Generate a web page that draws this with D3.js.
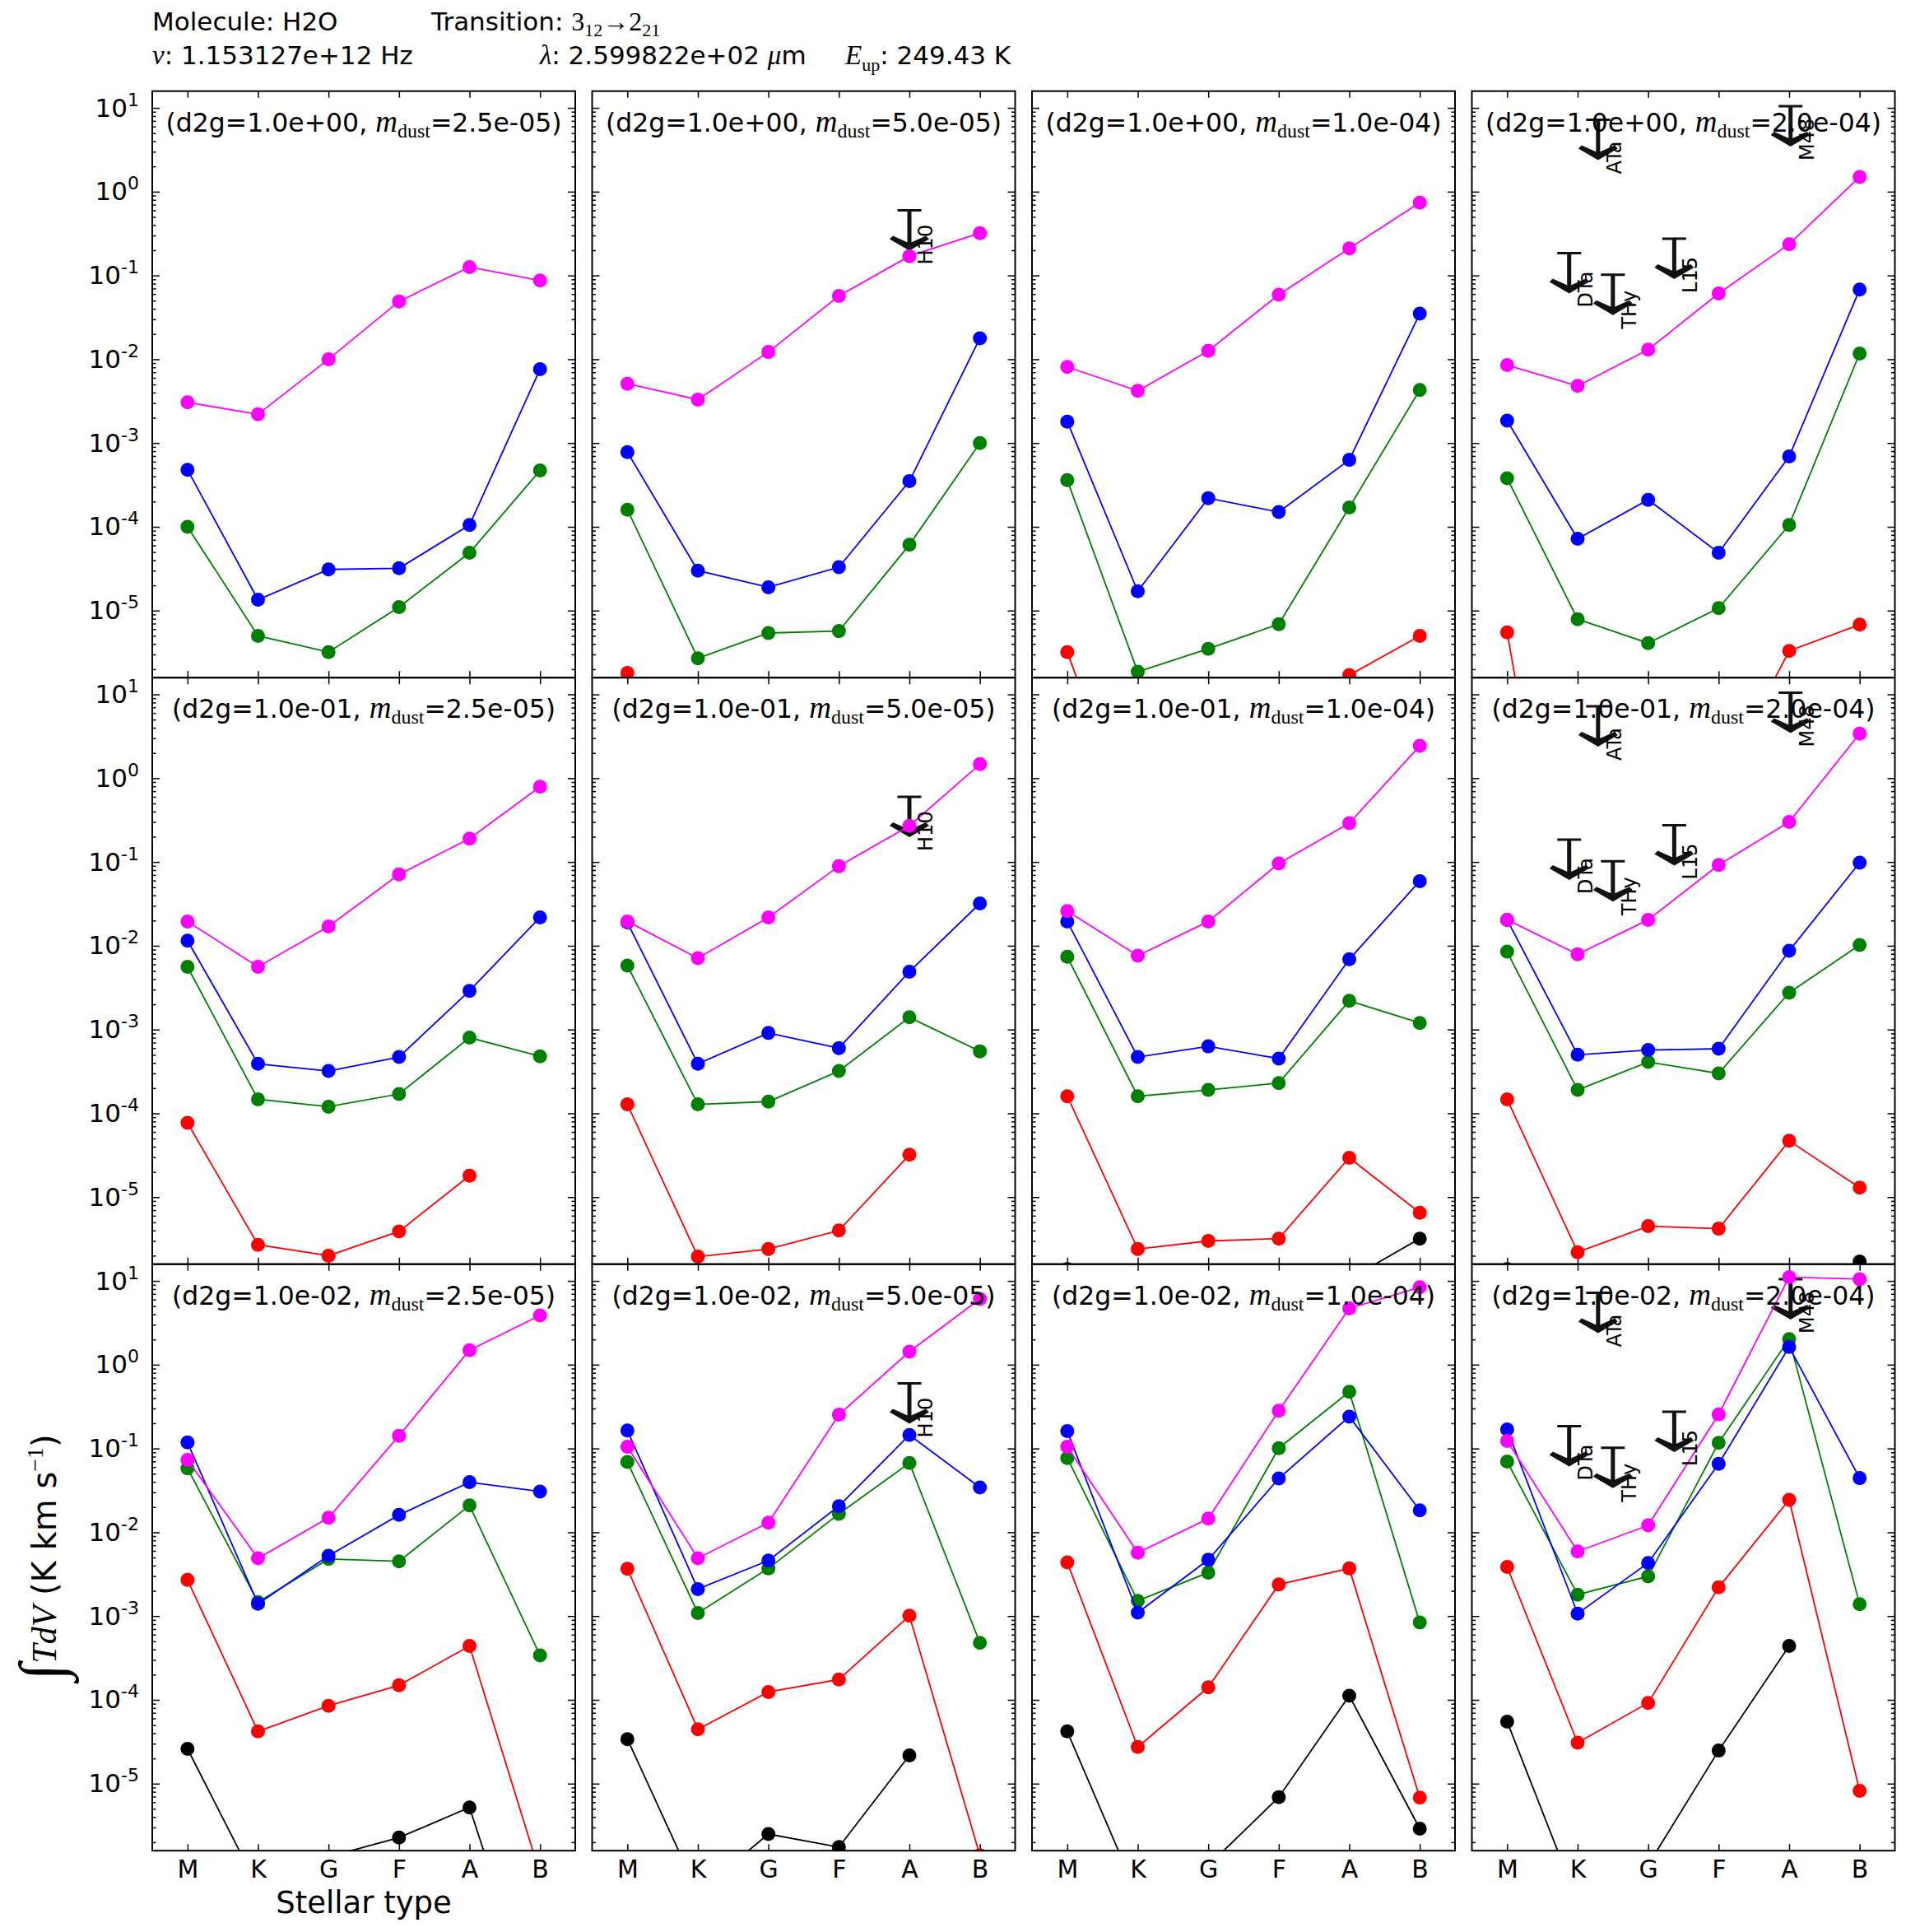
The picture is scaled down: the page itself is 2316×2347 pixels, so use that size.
<!DOCTYPE html>
<html>
<head>
<meta charset="utf-8">
<script src="https://cdn.jsdelivr.net/npm/d3@7"></script>
<style>
  body { margin: 0; background: #fff; }
</style>
</head>
<body>
<div id="chart"></div>
<script>
const width = 2316;
const height = 2347;

const stellarTypes = ['M', 'K', 'G', 'F', 'A', 'B'];
const d2gLabels = ['1.0e+00', '1.0e-01', '1.0e-02'];
const mdustLabels = ['2.5e-05', '5.0e-05', '1.0e-04', '2.0e-04'];

// integrated intensity, [d2g row][m_dust column][stellar type]; null = not plotted
const fluxMagenta = [
  [[3.06e-3, 2.2e-3, 1.0e-2, 4.9e-2, 0.126, 0.087],
   [5.1e-3, 3.3e-3, 1.22e-2, 5.7e-2, 0.17, 0.32],
   [8.1e-3, 4.2e-3, 1.26e-2, 5.9e-2, 0.21, 0.74],
   [8.5e-3, 4.8e-3, 1.3e-2, 6.1e-2, 0.236, 1.5]],
  [[0.0195, 5.6e-3, 0.017, 0.071, 0.19, 0.79],
   [0.0195, 7.1e-3, 0.0218, 0.089, 0.27, 1.47],
   [0.026, 7.6e-3, 0.0195, 0.096, 0.29, 2.43],
   [0.0204, 7.9e-3, 0.0204, 0.092, 0.30, 3.4]],
  [[0.073, 4.9e-3, 0.0149, 0.142, 1.49, 3.87],
   [0.105, 4.9e-3, 0.013, 0.253, 1.43, 6.1],
   [0.105, 5.7e-3, 0.0146, 0.283, 4.7, 8.4],
   [0.123, 5.9e-3, 0.0121, 0.255, 11.1, 10.5]],
];

const fluxBlue = [
  [[4.8e-4, 1.35e-5, 3.1e-5, 3.2e-5, 1.05e-4, 7.6e-3],
   [7.8e-4, 3.0e-5, 1.9e-5, 3.3e-5, 3.5e-4, 1.78e-2],
   [1.8e-3, 1.7e-5, 2.2e-4, 1.5e-4, 6.3e-4, 3.5e-2],
   [1.85e-3, 7.2e-5, 2.1e-4, 4.9e-5, 6.9e-4, 6.8e-2]],
  [[0.0115, 3.9e-4, 3.2e-4, 4.7e-4, 2.9e-3, 0.0218],
   [0.019, 3.9e-4, 9.1e-4, 6.0e-4, 4.9e-3, 0.032],
   [0.0195, 4.7e-4, 6.3e-4, 4.5e-4, 6.9e-3, 0.059],
   [0.0204, 5.0e-4, 5.7e-4, 5.9e-4, 8.7e-3, 0.098]],
  [[0.118, 1.4e-3, 5.25e-3, 0.0161, 0.0396, 0.0306],
   [0.164, 2.1e-3, 4.6e-3, 0.0205, 0.145, 0.0343],
   [0.161, 1.1e-3, 4.7e-3, 0.0439, 0.24, 0.0183],
   [0.169, 1.07e-3, 4.3e-3, 0.0656, 1.63, 0.0443]],
];

const fluxGreen = [
  [[1.0e-4, 5.0e-6, 3.2e-6, 1.1e-5, 4.9e-5, 4.7e-4],
   [1.6e-4, 2.7e-6, 5.4e-6, 5.7e-6, 6.1e-5, 1.0e-3],
   [3.6e-4, 1.86e-6, 3.5e-6, 6.9e-6, 1.7e-4, 4.3e-3],
   [3.8e-4, 7.9e-6, 4.1e-6, 1.07e-5, 1.05e-4, 1.17e-2]],
  [[5.6e-3, 1.47e-4, 1.2e-4, 1.7e-4, 8.0e-4, 4.8e-4],
   [5.8e-3, 1.28e-4, 1.38e-4, 3.2e-4, 1.4e-3, 5.5e-4],
   [7.4e-3, 1.6e-4, 1.9e-4, 2.3e-4, 2.2e-3, 1.2e-3],
   [8.5e-3, 1.9e-4, 4.1e-4, 3.0e-4, 2.75e-3, 0.0102]],
  [[0.058, 1.47e-3, 4.8e-3, 4.5e-3, 0.0209, 3.4e-4],
   [0.069, 1.09e-3, 3.7e-3, 0.0166, 0.067, 4.8e-4],
   [0.077, 1.52e-3, 3.3e-3, 0.101, 0.474, 8.4e-4],
   [0.0697, 1.8e-3, 2.98e-3, 0.117, 2.02, 1.39e-3]],
];

const fluxRed = [
  [[null, null, null, null, null, null],
   [1.8e-6, 1e-8, null, null, null, null],
   [3.2e-6, 1.6e-8, null, 1e-8, 1.7e-6, 5.0e-6],
   [5.5e-6, 1e-10, null, 8e-8, 3.3e-6, 6.8e-6]],
  [[7.7e-5, 2.7e-6, 2.0e-6, 3.9e-6, 1.8e-5, null],
   [1.28e-4, 1.95e-6, 2.4e-6, 4.0e-6, 3.2e-5, null],
   [1.6e-4, 2.4e-6, 3.0e-6, 3.2e-6, 2.95e-5, 6.5e-6],
   [1.47e-4, 2.2e-6, 4.5e-6, 4.2e-6, 4.7e-5, 1.3e-5]],
  [[2.7e-3, 4.2e-5, 8.5e-5, 1.49e-4, 4.4e-4, 8.4e-7],
   [3.66e-3, 4.46e-5, 1.24e-4, 1.75e-4, 1.01e-3, 1.4e-6],
   [4.36e-3, 2.74e-5, 1.41e-4, 2.38e-3, 3.7e-3, 6.8e-6],
   [3.86e-3, 3.08e-5, 9.2e-5, 2.2e-3, 0.0244, 8.2e-6]],
];

const fluxBlack = [
  [[null, null, null, null, null, null],
   [null, null, null, null, null, null],
   [null, null, null, null, null, null],
   [null, null, null, null, null, null]],
  [[null, null, null, null, null, null],
   [null, null, null, null, null, null],
   [1.38e-6, 1e-8, 1e-8, 1e-8, 1.05e-6, 3.2e-6],
   [1.38e-6, 1e-9, null, null, 1e-9, 1.7e-6]],
  [[2.6e-5, 5.8e-7, 1.34e-6, 2.27e-6, 5.2e-6, 1.4e-8],
   [3.4e-5, 5.0e-7, 2.5e-6, 1.75e-6, 2.17e-5, null],
   [4.2e-5, 4.6e-7, 1.05e-6, 6.9e-6, 1.12e-4, 2.9e-6],
   [5.5e-5, 3.9e-7, 1.07e-6, 2.48e-5, 4.4e-4, null]],
];

// drawing order: last one ends up on top
const seriesFlux = [fluxBlack, fluxRed, fluxGreen, fluxBlue, fluxMagenta];
const seriesColors = ['#000000', '#ff0000', '#008000', '#0000ff', '#ff00ff'];

// observed upper limits (same in every row of a column)
const limitNames = ['H10', 'DTa', 'ATa', 'THy', 'L15', 'M48'];
const limitColumn = [1, 3, 3, 3, 3, 3];
const limitTypePos = [4.0, 0.88, 1.29, 1.5, 2.37, 4.02];
const limitFlux = [0.6, 0.185, 7.2, 0.102, 0.275, 10.5];

const sans = "'DejaVu Sans', sans-serif";
const serif = "'Liberation Serif', 'DejaVu Serif', serif";

const panelW = 514;
const panelH = 712.5;
const left0 = 185;
const colStep = 534.5;
const top0 = 110.7;

const svg = d3
  .select('#chart')
  .append('svg')
  .attr('width', width)
  .attr('height', height)
  .style('font-family', sans);

svg.append('rect').attr('width', width).attr('height', height).attr('fill', '#fff');

// header
const head = svg.append('g').attr('font-size', 31).attr('fill', '#000');

head.append('text').attr('x', 185).attr('y', 37).text('Molecule: H2O');

let t = head.append('text').attr('x', 524).attr('y', 37);
t.append('tspan').text('Transition: ');
t.append('tspan').attr('font-family', serif).attr('font-size', 32).text('3');
t.append('tspan').attr('font-family', serif).attr('font-size', 22).attr('dy', 7).text('12');
t.append('tspan').attr('font-family', serif).attr('font-size', 32).attr('dy', -7).text('\u2192');
t.append('tspan').attr('font-family', serif).attr('font-size', 32).text('2');
t.append('tspan').attr('font-family', serif).attr('font-size', 22).attr('dy', 7).text('21');

t = head.append('text').attr('x', 185).attr('y', 78);
t.append('tspan').attr('font-family', serif).attr('font-style', 'italic').attr('font-size', 33).text('\u03bd');
t.append('tspan').text(': 1.153127e+12 Hz');

t = head.append('text').attr('x', 656).attr('y', 78);
t.append('tspan').attr('font-family', serif).attr('font-style', 'italic').attr('font-size', 33).text('\u03bb');
t.append('tspan').text(': 2.599822e+02 ');
t.append('tspan').attr('font-family', serif).attr('font-style', 'italic').attr('font-size', 33).text('\u03bc');
t.append('tspan').text('m');

t = head.append('text').attr('x', 1027).attr('y', 78);
t.append('tspan').attr('font-family', serif).attr('font-style', 'italic').attr('font-size', 33).text('E');
t.append('tspan').attr('font-family', serif).attr('font-size', 22).attr('dy', 8).text('up');
t.append('tspan').attr('dy', -8).text(': 249.43 K');

const defs = svg.append('defs');

d2gLabels.forEach((d2g, r) => {
  mdustLabels.forEach((mdust, c) => {
    const x0 = left0 + c * colStep;
    const y0 = top0 + r * panelH;

    const x = d3.scaleLinear().domain([-0.5, 5.5]).range([x0, x0 + panelW]);
    const y = d3
      .scaleLog()
      .domain([Math.pow(10, -5.8), Math.pow(10, 1.2)])
      .range([y0 + panelH, y0]);

    const clipId = 'clip-' + r + '-' + c;
    defs
      .append('clipPath')
      .attr('id', clipId)
      .append('rect')
      .attr('x', x0)
      .attr('y', y0)
      .attr('width', panelW)
      .attr('height', panelH);

    const g = svg.append('g');

    const majors = d3.range(-5, 2).map((e) => Math.pow(10, e));
    const minors = [];
    d3.range(-6, 2).forEach((e) => {
      for (let k = 2; k < 10; k++) {
        const v = k * Math.pow(10, e);
        if (v > y.domain()[0] && v < y.domain()[1]) minors.push(v);
      }
    });

    // ticks, all pointing inward
    const axes = g.append('g').attr('stroke-width', 1.5);
    const leftMajor = axes
      .append('g')
      .attr('transform', 'translate(' + x0 + ',0)')
      .call(d3.axisLeft(y).tickValues(majors).tickSize(-9).tickPadding(16).tickFormat(() => ''));
    axes
      .append('g')
      .attr('transform', 'translate(' + x0 + ',0)')
      .call(d3.axisLeft(y).tickValues(minors).tickSize(-4.5).tickFormat(() => ''));
    axes
      .append('g')
      .attr('transform', 'translate(' + (x0 + panelW) + ',0)')
      .call(d3.axisRight(y).tickValues(majors).tickSize(-9).tickFormat(() => ''));
    axes
      .append('g')
      .attr('transform', 'translate(' + (x0 + panelW) + ',0)')
      .call(d3.axisRight(y).tickValues(minors).tickSize(-4.5).tickFormat(() => ''));
    const bottomAxis = axes
      .append('g')
      .attr('transform', 'translate(0,' + (y0 + panelH) + ')')
      .call(
        d3
          .axisBottom(x)
          .tickValues(d3.range(6))
          .tickSize(-8)
          .tickPadding(12)
          .tickFormat((i) => (r === 2 ? stellarTypes[i] : ''))
      );
    axes
      .append('g')
      .attr('transform', 'translate(0,' + y0 + ')')
      .call(d3.axisTop(x).tickValues(d3.range(6)).tickSize(-8).tickFormat(() => ''));
    axes.selectAll('.domain').remove();
    axes.selectAll('.tick line').attr('stroke', '#000');

    bottomAxis
      .selectAll('.tick text')
      .attr('font-family', sans)
      .attr('font-size', 30)
      .attr('fill', '#000')
      .attr('dy', null)
      .attr('y', 33);

    if (c === 0) {
      leftMajor.selectAll('.tick text').each(function (v) {
        const txt = d3
          .select(this)
          .attr('font-family', sans)
          .attr('font-size', 31)
          .attr('fill', '#000')
          .attr('dy', 10);
        txt.text(null);
        txt.append('tspan').text('10');
        txt
          .append('tspan')
          .attr('font-size', 22)
          .attr('dy', -13)
          .text(String(Math.round(Math.log10(v))));
      });
    }

    // upper limit arrows
    const lim = g.append('g').attr('clip-path', 'url(#' + clipId + ')');
    limitNames.forEach((name, i) => {
      if (limitColumn[i] !== c) return;
      const ax = x(limitTypePos[i]);
      const capY = y(limitFlux[i]);
      const tipY = capY + 49;
      lim
        .append('line')
        .attr('x1', ax - 14.5)
        .attr('x2', ax + 14.5)
        .attr('y1', capY)
        .attr('y2', capY)
        .attr('stroke', '#111')
        .attr('stroke-width', 3);
      lim
        .append('line')
        .attr('x1', ax)
        .attr('x2', ax)
        .attr('y1', capY)
        .attr('y2', tipY - 8)
        .attr('stroke', '#111')
        .attr('stroke-width', 5);
      lim
        .append('path')
        .attr(
          'd',
          'M' + (ax - 24) + ',' + (tipY - 14) +
            'L' + ax + ',' + tipY +
            'L' + (ax + 24) + ',' + (tipY - 14) +
            'L' + (ax + 20) + ',' + (tipY - 18) +
            'L' + ax + ',' + (tipY - 9) +
            'L' + (ax - 20) + ',' + (tipY - 18) + 'Z'
        )
        .attr('fill', '#111');
    });

    // model series
    const plot = g.append('g').attr('clip-path', 'url(#' + clipId + ')');
    const line = d3
      .line()
      .defined((d) => d !== null)
      .x((d, i) => x(i))
      .y((d) => y(d));

    seriesFlux.forEach((flux, s) => {
      const vals = flux[r][c];
      plot
        .append('path')
        .datum(vals)
        .attr('d', line)
        .attr('fill', 'none')
        .attr('stroke', seriesColors[s])
        .attr('stroke-width', 1.8);
      plot
        .selectAll(null)
        .data(vals.map((v, i) => ({ v, i })).filter((d) => d.v !== null))
        .enter()
        .append('circle')
        .attr('cx', (d) => x(d.i))
        .attr('cy', (d) => y(d.v))
        .attr('r', 8.5)
        .attr('fill', seriesColors[s]);
    });

    // limit labels
    limitNames.forEach((name, i) => {
      if (limitColumn[i] !== c) return;
      const ax = x(limitTypePos[i]) + 28;
      const ay = y(limitFlux[i]) + 49 + 17;
      g.append('text')
        .attr('transform', 'translate(' + ax + ',' + ay + ') rotate(-90)')
        .attr('font-size', 24)
        .attr('fill', '#000')
        .text(name);
    });

    // frame
    g.append('rect')
      .attr('x', x0)
      .attr('y', y0)
      .attr('width', panelW)
      .attr('height', panelH)
      .attr('fill', 'none')
      .attr('stroke', '#000')
      .attr('stroke-width', 2);

    // panel title
    const title = g
      .append('text')
      .attr('x', x0 + panelW / 2)
      .attr('y', y0 + 49)
      .attr('text-anchor', 'middle')
      .attr('font-size', 31.5)
      .attr('fill', '#000');
    title.append('tspan').text('(d2g=' + d2g + ', ');
    title
      .append('tspan')
      .attr('font-family', serif)
      .attr('font-style', 'italic')
      .attr('font-size', 37)
      .text('m');
    title
      .append('tspan')
      .attr('font-family', serif)
      .attr('font-size', 24)
      .attr('dy', 7)
      .text('dust');
    title.append('tspan').attr('dy', -7).text('=' + mdust + ')');
  });
});

// axis labels
svg
  .append('text')
  .attr('x', left0 + panelW / 2)
  .attr('y', 2324)
  .attr('text-anchor', 'middle')
  .attr('font-size', 37)
  .attr('fill', '#000')
  .text('Stellar type');

const yl = svg
  .append('text')
  .attr('transform', 'translate(68,' + (top0 + 2.5 * panelH) + ') rotate(-90)')
  .attr('text-anchor', 'middle')
  .attr('font-size', 40)
  .attr('fill', '#000');
yl.append('tspan').attr('font-family', serif).attr('font-size', 76).attr('dy', 8).text('\u222b');
yl.append('tspan')
  .attr('font-family', serif)
  .attr('font-style', 'italic')
  .attr('font-size', 42)
  .attr('dy', -8)
  .text('TdV');
yl.append('tspan').text(' (K km s');
yl.append('tspan').attr('font-family', serif).attr('font-size', 28).attr('dy', -16).text('\u22121');
yl.append('tspan').attr('dy', 16).text(')');
</script>
</body>
</html>
